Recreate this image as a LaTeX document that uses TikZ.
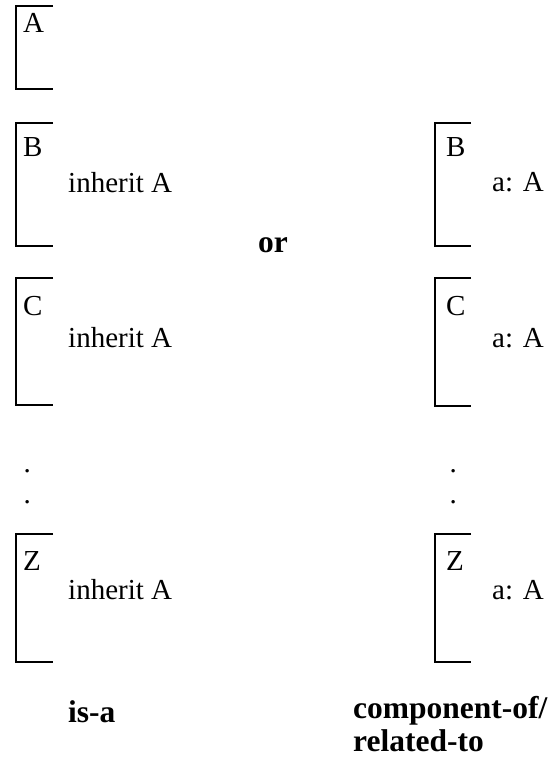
\documentclass[tikz,border=0pt]{standalone}
\usepackage{fontspec}
\setmainfont{Liberation Serif}
\begin{document}
\begin{tikzpicture}[x=1pt,y=-1pt,
  bracket/.style={line width=2pt},
  lbl/.style={anchor=base west,inner sep=0pt,font=\fontsize{29}{33}\selectfont},
  bold/.style={anchor=base west,inner sep=0pt,font=\fontsize{31.5}{34}\selectfont\bfseries,align=left}]
\useasboundingbox (0,0) rectangle (553,757);
% left column brackets
\draw[bracket] (53,6) -- (16,6) -- (16,89) -- (53,89);
\draw[bracket] (53,123) -- (16,123) -- (16,246) -- (53,246);
\draw[bracket] (53,278) -- (16,278) -- (16,405) -- (53,405);
\draw[bracket] (53,534) -- (16,534) -- (16,662) -- (53,662);
% right column brackets
\draw[bracket] (471,123) -- (435,123) -- (435,246) -- (471,246);
\draw[bracket] (471,278) -- (435,278) -- (435,406) -- (471,406);
\draw[bracket] (471,534) -- (435,534) -- (435,662) -- (471,662);
% left labels
\node[lbl] (la) at (23,33) {A};
\node[lbl] (lb) at (23,157) {B};
\node[lbl] (lbt) at (68,192) {inherit A};
\node[lbl] (lc) at (23,315) {C};
\node[lbl] (lct) at (68,347) {inherit A};
\node[lbl] (lz) at (23,570) {Z};
\node[lbl] (lzt) at (68,599) {inherit A};
% right labels
\node[lbl] (rb) at (446,157) {B};
\node[lbl] (rbt) at (492,191) {a: A};
\node[lbl] (rc) at (446,315) {C};
\node[lbl] (rct) at (492,347) {a: A};
\node[lbl] (rz) at (446,570) {Z};
\node[lbl] (rzt) at (492,599) {a: A};
% dots
\node[lbl] (ld1) at (23.4,472) {.};
\node[lbl] (ld2) at (23.4,503) {.};
\node[lbl] (rd1) at (449.4,472) {.};
\node[lbl] (rd2) at (449.4,503) {.};
% bold labels
\node[bold] (or) at (258,252) {or};
\node[bold] (isa) at (68,722) {is-a};
\node[bold] (comp) at (353,718) {component-of/};
\node[bold] (rel) at (353,751) {related-to};
\end{tikzpicture}
\end{document}
